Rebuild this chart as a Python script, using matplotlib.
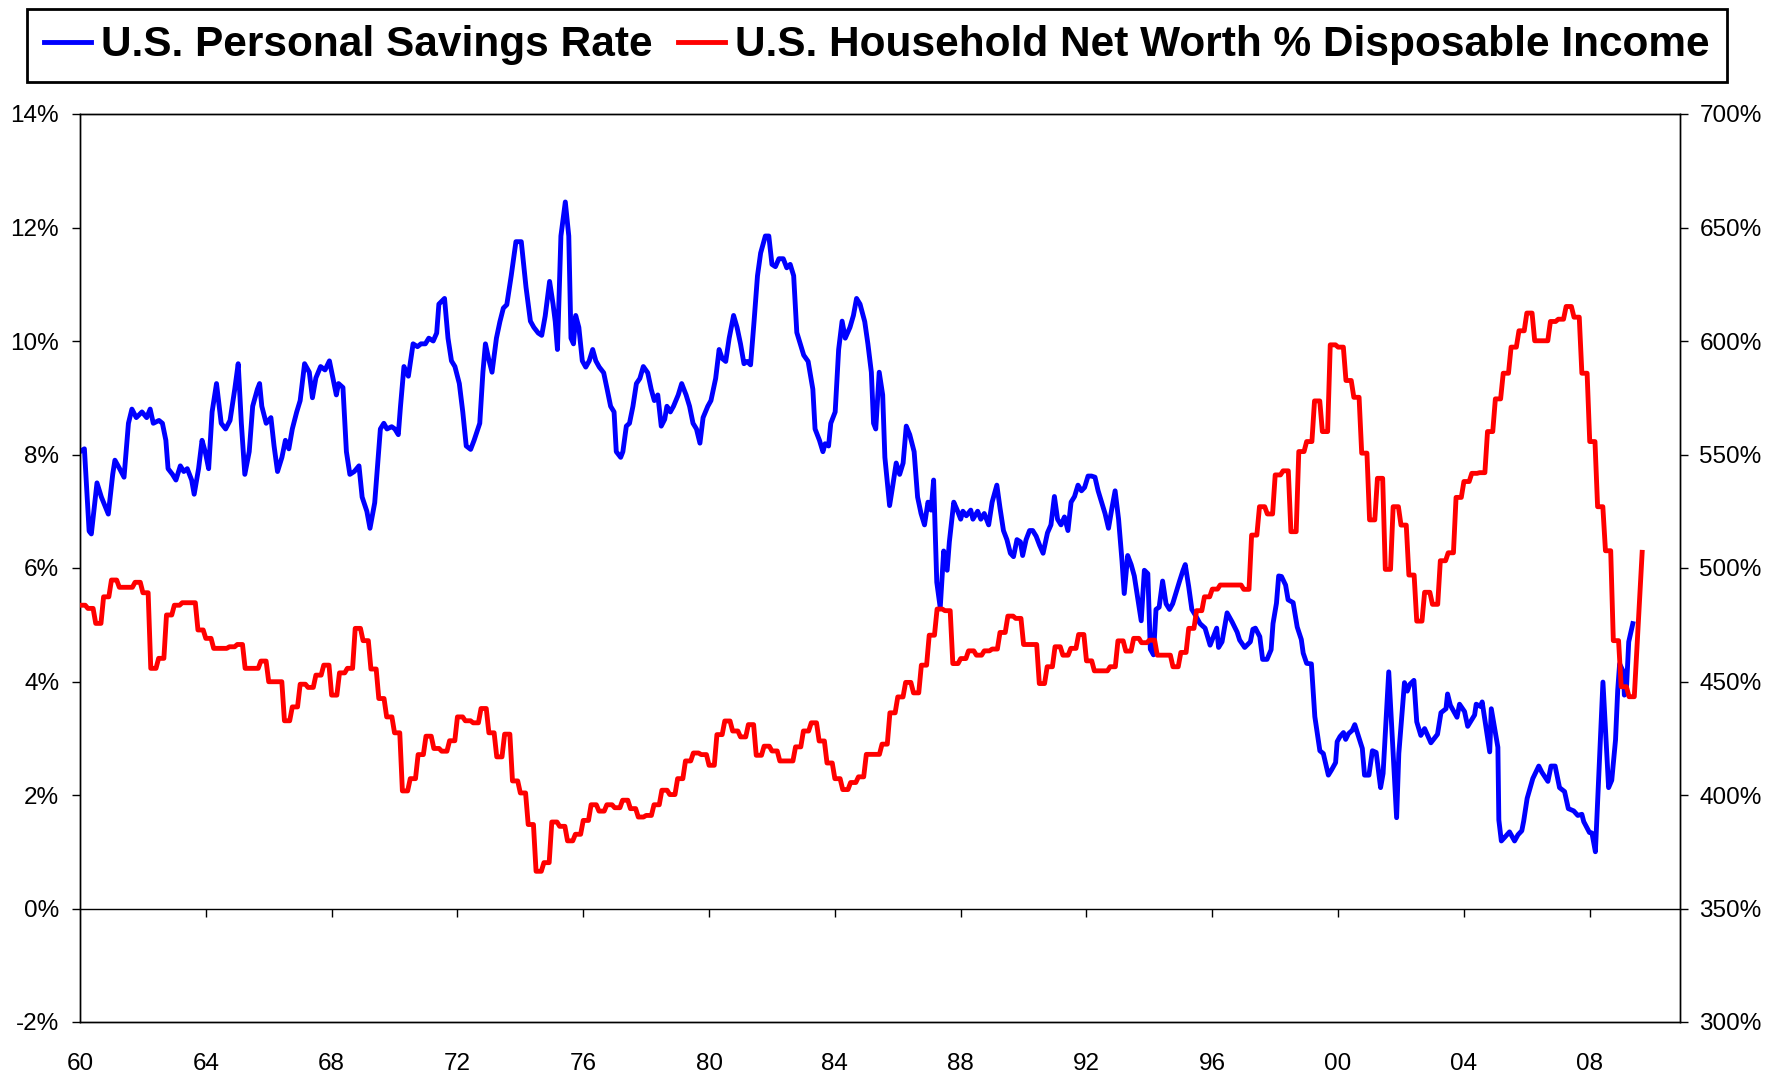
import numpy as np
import matplotlib
matplotlib.use("Agg")
import matplotlib.pyplot as plt
from matplotlib.ticker import FixedLocator, FuncFormatter

plt.rcParams['font.family'] = ['Liberation Sans', 'DejaVu Sans']

# ---------------- data ----------------
# U.S. personal savings rate (%), monthly-ish readings (decimal year, value)
blue_years = [
    1960.00, 1960.14, 1960.29, 1960.36, 1960.54, 1960.68, 1960.90, 1961.04, 1961.11, 1961.26,
    1961.40, 1961.54, 1961.65, 1961.79, 1961.97, 1962.12, 1962.23, 1962.33, 1962.51, 1962.62,
    1962.73, 1962.80, 1962.94, 1963.05, 1963.19, 1963.30, 1963.41, 1963.55, 1963.63, 1963.77,
    1963.88, 1963.98, 1964.09, 1964.20, 1964.34, 1964.49, 1964.63, 1964.77, 1964.92, 1965.03,
    1965.13, 1965.24, 1965.38, 1965.49, 1965.64, 1965.71, 1965.78, 1965.92, 1966.07, 1966.17,
    1966.28, 1966.42, 1966.53, 1966.64, 1966.75, 1966.89, 1967.00, 1967.14, 1967.29, 1967.39,
    1967.50, 1967.65, 1967.79, 1967.93, 1968.04, 1968.15, 1968.22, 1968.36, 1968.47, 1968.58,
    1968.72, 1968.87, 1968.97, 1969.12, 1969.22, 1969.37, 1969.48, 1969.55, 1969.66, 1969.76,
    1969.91, 1970.01, 1970.12, 1970.19, 1970.30, 1970.44, 1970.59, 1970.73, 1970.84, 1970.98,
    1971.09, 1971.23, 1971.34, 1971.41, 1971.59, 1971.70, 1971.81, 1971.92, 1972.06, 1972.17,
    1972.28, 1972.42, 1972.53, 1972.71, 1972.81, 1972.89, 1972.99, 1973.10, 1973.24, 1973.35,
    1973.46, 1973.57, 1973.71, 1973.86, 1974.03, 1974.18, 1974.32, 1974.43, 1974.57, 1974.68,
    1974.79, 1974.93, 1975.04, 1975.11, 1975.18, 1975.29, 1975.43, 1975.54, 1975.61, 1975.69,
    1975.76, 1975.86, 1975.97, 1976.08, 1976.19, 1976.30, 1976.40, 1976.51, 1976.65, 1976.76,
    1976.87, 1976.98, 1977.05, 1977.19, 1977.26, 1977.37, 1977.47, 1977.58, 1977.69, 1977.80,
    1977.91, 1978.05, 1978.16, 1978.26, 1978.37, 1978.48, 1978.59, 1978.66, 1978.77, 1978.87,
    1979.02, 1979.13, 1979.27, 1979.38, 1979.49, 1979.60, 1979.71, 1979.81, 1979.96, 1980.06,
    1980.21, 1980.32, 1980.42, 1980.53, 1980.64, 1980.78, 1980.89, 1981.00, 1981.11, 1981.21,
    1981.32, 1981.43, 1981.54, 1981.64, 1981.79, 1981.90, 1982.00, 1982.11, 1982.22, 1982.36,
    1982.47, 1982.58, 1982.69, 1982.79, 1982.90, 1983.01, 1983.15, 1983.30, 1983.37, 1983.51,
    1983.62, 1983.69, 1983.80, 1983.87, 1984.01, 1984.12, 1984.23, 1984.33, 1984.48, 1984.59,
    1984.69, 1984.80, 1984.95, 1985.05, 1985.16, 1985.23, 1985.30, 1985.41, 1985.52, 1985.59,
    1985.74, 1985.84, 1985.95, 1986.06, 1986.17, 1986.27, 1986.38, 1986.52, 1986.63, 1986.74,
    1986.85, 1986.96, 1987.06, 1987.14, 1987.24, 1987.35, 1987.46, 1987.57, 1987.64, 1987.78,
    1987.89, 1988.00, 1988.07, 1988.18, 1988.32, 1988.39, 1988.54, 1988.64, 1988.75, 1988.89,
    1989.00, 1989.15, 1989.25, 1989.36, 1989.47, 1989.58, 1989.68, 1989.79, 1989.90, 1989.97,
    1990.08, 1990.19, 1990.29, 1990.40, 1990.51, 1990.62, 1990.76, 1990.87, 1990.98, 1991.08,
    1991.19, 1991.30, 1991.41, 1991.51, 1991.62, 1991.73, 1991.84, 1991.94, 1992.05, 1992.16,
    1992.27, 1992.37, 1992.48, 1992.59, 1992.70, 1992.81, 1992.91, 1993.02, 1993.13, 1993.20,
    1993.31, 1993.42, 1993.52, 1993.63, 1993.74, 1993.84, 1993.95, 1994.03, 1994.13, 1994.21,
    1994.31, 1994.42, 1994.53, 1994.64, 1994.74, 1994.85, 1994.96, 1995.07, 1995.14, 1995.25,
    1995.35, 1995.46, 1995.61, 1995.77, 1995.93, 1996.14, 1996.20, 1996.31, 1996.47, 1996.63,
    1996.79, 1996.87, 1997.03, 1997.21, 1997.29, 1997.37, 1997.51, 1997.60, 1997.74, 1997.87,
    1997.93, 1998.04, 1998.11, 1998.20, 1998.33, 1998.41, 1998.57, 1998.70, 1998.83, 1998.89,
    1999.00, 1999.15, 1999.26, 1999.42, 1999.53, 1999.69, 1999.79, 1999.92, 1999.97, 2000.06,
    2000.17, 2000.24, 2000.33, 2000.45, 2000.53, 2000.64, 2000.77, 2000.84, 2000.98, 2001.09,
    2001.21, 2001.35, 2001.43, 2001.61, 2001.86, 2001.93, 2002.11, 2002.20, 2002.28, 2002.41,
    2002.50, 2002.63, 2002.75, 2002.95, 2003.16, 2003.27, 2003.43, 2003.48, 2003.57, 2003.78,
    2003.86, 2004.02, 2004.12, 2004.34, 2004.39, 2004.53, 2004.58, 2004.82, 2004.87, 2005.08,
    2005.11, 2005.19, 2005.29, 2005.45, 2005.61, 2005.72, 2005.84, 2005.90, 2006.01, 2006.19,
    2006.38, 2006.48, 2006.67, 2006.77, 2006.90, 2007.04, 2007.20, 2007.32, 2007.49, 2007.62,
    2007.75, 2007.81, 2007.99, 2008.07, 2008.18, 2008.42, 2008.60, 2008.70, 2008.82, 2008.89,
    2008.95, 2009.08, 2009.10, 2009.16, 2009.24, 2009.37,
]
blue_vals = [
    8.05, 8.10, 6.65, 6.60, 7.50, 7.25, 6.95, 7.65, 7.90, 7.75,
    7.60, 8.55, 8.80, 8.65, 8.75, 8.65, 8.80, 8.55, 8.60, 8.55,
    8.25, 7.75, 7.65, 7.55, 7.80, 7.70, 7.75, 7.55, 7.30, 7.75,
    8.25, 8.05, 7.75, 8.75, 9.25, 8.55, 8.45, 8.60, 9.15, 9.60,
    8.55, 7.65, 8.05, 8.85, 9.15, 9.25, 8.85, 8.55, 8.65, 8.15,
    7.70, 7.95, 8.25, 8.10, 8.45, 8.75, 8.95, 9.60, 9.45, 9.00,
    9.35, 9.55, 9.49, 9.65, 9.35, 9.05, 9.25, 9.18, 8.05, 7.65,
    7.70, 7.80, 7.25, 7.00, 6.70, 7.15, 7.95, 8.45, 8.55, 8.45,
    8.49, 8.45, 8.35, 8.85, 9.55, 9.38, 9.95, 9.90, 9.95, 9.95,
    10.05, 10.00, 10.14, 10.65, 10.75, 10.05, 9.65, 9.55, 9.25, 8.75,
    8.15, 8.09, 8.25, 8.55, 9.45, 9.95, 9.69, 9.45, 10.05, 10.34,
    10.58, 10.64, 11.15, 11.75, 11.75, 10.95, 10.35, 10.24, 10.14, 10.10,
    10.44, 11.05, 10.65, 10.34, 9.85, 11.85, 12.45, 11.85, 10.05, 9.95,
    10.45, 10.24, 9.65, 9.54, 9.65, 9.85, 9.65, 9.54, 9.44, 9.15,
    8.85, 8.75, 8.05, 7.95, 8.05, 8.50, 8.55, 8.85, 9.25, 9.34,
    9.55, 9.44, 9.15, 8.95, 9.05, 8.50, 8.62, 8.85, 8.75, 8.85,
    9.05, 9.25, 9.05, 8.85, 8.55, 8.45, 8.20, 8.65, 8.85, 8.95,
    9.34, 9.85, 9.69, 9.64, 10.05, 10.45, 10.24, 9.95, 9.60, 9.64,
    9.58, 10.34, 11.15, 11.55, 11.85, 11.85, 11.35, 11.31, 11.45, 11.45,
    11.29, 11.35, 11.15, 10.15, 9.95, 9.75, 9.64, 9.15, 8.45, 8.25,
    8.05, 8.19, 8.15, 8.55, 8.75, 9.85, 10.35, 10.05, 10.24, 10.45,
    10.75, 10.65, 10.34, 9.95, 9.45, 8.55, 8.45, 9.45, 9.05, 7.95,
    7.10, 7.45, 7.85, 7.65, 7.85, 8.50, 8.35, 8.05, 7.25, 6.96,
    6.76, 7.16, 7.02, 7.55, 5.75, 5.30, 6.30, 5.96, 6.46, 7.16,
    7.02, 6.86, 7.00, 6.92, 7.02, 6.86, 7.00, 6.86, 6.96, 6.76,
    7.16, 7.46, 7.06, 6.66, 6.50, 6.26, 6.20, 6.50, 6.46, 6.22,
    6.50, 6.66, 6.66, 6.56, 6.40, 6.26, 6.62, 6.76, 7.26, 6.86,
    6.76, 6.90, 6.66, 7.16, 7.26, 7.46, 7.36, 7.42, 7.62, 7.62,
    7.60, 7.36, 7.16, 6.96, 6.70, 7.06, 7.36, 6.86, 6.12, 5.55,
    6.22, 6.06, 5.86, 5.47, 5.07, 5.96, 5.90, 4.57, 4.47, 5.27,
    5.31, 5.77, 5.37, 5.27, 5.37, 5.57, 5.77, 5.96, 6.06, 5.67,
    5.27, 5.17, 5.02, 4.94, 4.64, 4.94, 4.60, 4.70, 5.21, 5.05,
    4.87, 4.73, 4.60, 4.70, 4.92, 4.94, 4.79, 4.39, 4.39, 4.56,
    5.02, 5.38, 5.86, 5.85, 5.70, 5.44, 5.39, 4.96, 4.74, 4.50,
    4.32, 4.31, 3.38, 2.78, 2.73, 2.35, 2.44, 2.57, 2.94, 3.03,
    3.10, 2.98, 3.08, 3.14, 3.24, 3.05, 2.82, 2.35, 2.35, 2.78,
    2.75, 2.13, 2.38, 4.17, 1.60, 2.73, 3.98, 3.83, 3.95, 4.02,
    3.29, 3.05, 3.17, 2.92, 3.07, 3.45, 3.52, 3.78, 3.58, 3.37,
    3.60, 3.47, 3.21, 3.41, 3.60, 3.56, 3.64, 2.76, 3.52, 2.84,
    1.56, 1.19, 1.25, 1.35, 1.19, 1.30, 1.37, 1.54, 1.94, 2.29,
    2.51, 2.40, 2.24, 2.51, 2.51, 2.13, 2.06, 1.76, 1.72, 1.64,
    1.66, 1.53, 1.34, 1.33, 1.00, 3.99, 2.13, 2.26, 2.97, 3.85,
    4.31, 4.16, 3.76, 3.79, 4.70, 5.02,
]

# U.S. household net worth as % of disposable income, quarterly from 1960Q1
red_start_year = 1960
red_quarterly = [
    483.6, 482.2, 475.6, 487.3,  494.7, 491.5, 491.5, 493.7,
    489.1, 455.8, 460.2, 479.3,  483.6, 484.7, 484.7, 472.7,
    469.0, 464.6, 464.6, 465.3,  466.3, 455.8, 455.8, 459.0,
    449.9, 449.9, 432.7, 438.8,  448.8, 447.4, 452.8, 457.2,
    444.0, 453.8, 455.8, 473.4,  468.0, 455.5, 442.5, 434.4,
    427.4, 401.8, 407.2, 417.8,  425.9, 420.5, 419.3, 423.9,
    434.4, 432.7, 431.8, 438.1,  427.4, 416.8, 426.8, 406.2,
    400.9, 387.0, 366.4, 370.2,  388.1, 386.2, 379.8, 382.7,
    388.8, 395.7, 392.9, 395.7,  394.4, 397.7, 394.0, 390.3,
    391.0, 395.7, 402.1, 400.2,  407.2, 415.0, 418.5, 417.8,
    413.1, 426.6, 432.6, 428.2,  425.6, 431.0, 417.5, 421.5,
    419.4, 415.0, 415.0, 421.2,  428.2, 431.8, 423.8, 414.1,
    407.2, 402.4, 405.5, 408.0,  417.9, 417.9, 422.4, 436.2,
    443.2, 449.6, 445.0, 457.2,  470.4, 481.9, 481.2, 457.9,
    460.1, 463.5, 461.6, 463.5,  464.3, 471.6, 478.8, 477.8,
    466.3, 466.3, 449.1, 456.5,  465.3, 461.6, 464.6, 470.7,
    459.1, 454.7, 454.7, 456.5,  467.9, 463.4, 469.0, 467.1,
    468.2, 461.6, 461.6, 456.5,  462.8, 473.4, 481.2, 487.3,
    490.7, 492.5, 492.5, 492.5,  490.6, 514.5, 527.0, 523.8,
    541.0, 542.8, 516.0, 551.3,  555.7, 573.6, 560.1, 598.3,
    597.3, 582.6, 575.2, 550.6,  521.2, 539.5, 499.4, 527.0,
    518.9, 496.9, 476.6, 489.3,  484.0, 503.2, 506.7, 531.1,
    538.1, 541.7, 542.0, 560.1,  574.5, 585.8, 597.3, 604.5,
    612.3, 600.1, 600.1, 608.6,  609.6, 615.2, 610.5, 585.8,
    555.7, 527.0, 507.6, 468.0,  447.7, 443.3,
]
red_last_value = 506.9      # 2009Q3 (plotted at its last month)

x_tick_years = list(range(1960, 2009, 4))
x_tick_labels = [f"{y % 100:02d}" for y in x_tick_years]
left_ticks = [-2, 0, 2, 4, 6, 8, 10, 12, 14]
right_ticks = [300, 350, 400, 450, 500, 550, 600, 650, 700]

legend_labels = ["U.S. Personal Savings Rate",
                 "U.S. Household Net Worth % Disposable Income"]

# monthly representation of the quarterly series (each quarter's value held for its 3 months)
red_x = []
red_y = []
for i, v in enumerate(red_quarterly):
    for m in range(3):
        red_x.append(red_start_year + (3 * i + m) / 12.0)
        red_y.append(v)
n_q = len(red_quarterly)
red_x.append(red_start_year + (3 * n_q + 2) / 12.0)
red_y.append(red_last_value)

# ---------------- figure ----------------
W, H = 1769, 1074
fig = plt.figure(figsize=(W / 100, H / 100), dpi=100)
ax = fig.add_axes([80 / W, 1 - 1022 / H, 1600 / W, 908 / H])
ax2 = ax.twinx()

BLUE = "#0000FF"
RED = "#FF0000"
lw = 3.5

lb, = ax.plot(blue_years, blue_vals, color=BLUE, lw=lw, solid_joinstyle="round",
              label=legend_labels[0], zorder=3)
lr, = ax2.plot(red_x, red_y, color=RED, lw=lw, solid_joinstyle="round",
               label=legend_labels[1], zorder=3)

ax.set_xlim(1960, 2010.87)
ax.set_ylim(-2, 14)
ax2.set_ylim(300, 700)

tick_fs = 17.5
ax.yaxis.set_major_locator(FixedLocator(left_ticks))
ax.yaxis.set_major_formatter(FuncFormatter(lambda v, p: f"{v:.0f}%"))
ax2.yaxis.set_major_locator(FixedLocator(right_ticks))
ax2.yaxis.set_major_formatter(FuncFormatter(lambda v, p: f"{v:.0f}%"))
ax.tick_params(axis="y", direction="out", length=6, width=1.0, pad=9,
               labelsize=tick_fs, colors="black")
ax2.tick_params(axis="y", direction="out", length=6, width=1.0, pad=8,
                labelsize=tick_fs, colors="black")

# x labels below the bottom frame, tick marks on the 0% line
ax.set_xticks(x_tick_years)
ax.set_xticklabels(x_tick_labels)
ax.tick_params(axis="x", length=0, pad=22, labelsize=tick_fs, colors="black")

zero_frac = (0 - (-2)) / (14 - (-2))
sec = ax.secondary_xaxis(zero_frac)
sec.set_xticks(x_tick_years[1:])
sec.tick_params(axis="x", direction="out", length=6, width=1.0, labelbottom=False,
                labeltop=False, bottom=True, top=False)
sec.spines["bottom"].set_linewidth(1.0)
sec.spines["bottom"].set_color("black")
sec.spines["top"].set_visible(False)

for a in (ax, ax2):
    for s in a.spines.values():
        s.set_linewidth(1.0)
        s.set_color("black")

# legend
leg = fig.legend(handles=[lb, lr], labels=legend_labels, loc="center",
                 bbox_to_anchor=(877 / W, 1 - 45.5 / H), ncol=2, frameon=True,
                 fancybox=False, edgecolor="black", framealpha=1,
                 handlelength=1.1, handletextpad=0.25, columnspacing=0.6,
                 borderpad=0.4, prop={"family": ["Liberation Sans", "DejaVu Sans"],
                                      "weight": "bold", "size": 30.5})
leg.get_frame().set_linewidth(2.0)
for h in leg.legend_handles:
    h.set_linewidth(3.5)

fig.savefig("out.png", dpi=100)
